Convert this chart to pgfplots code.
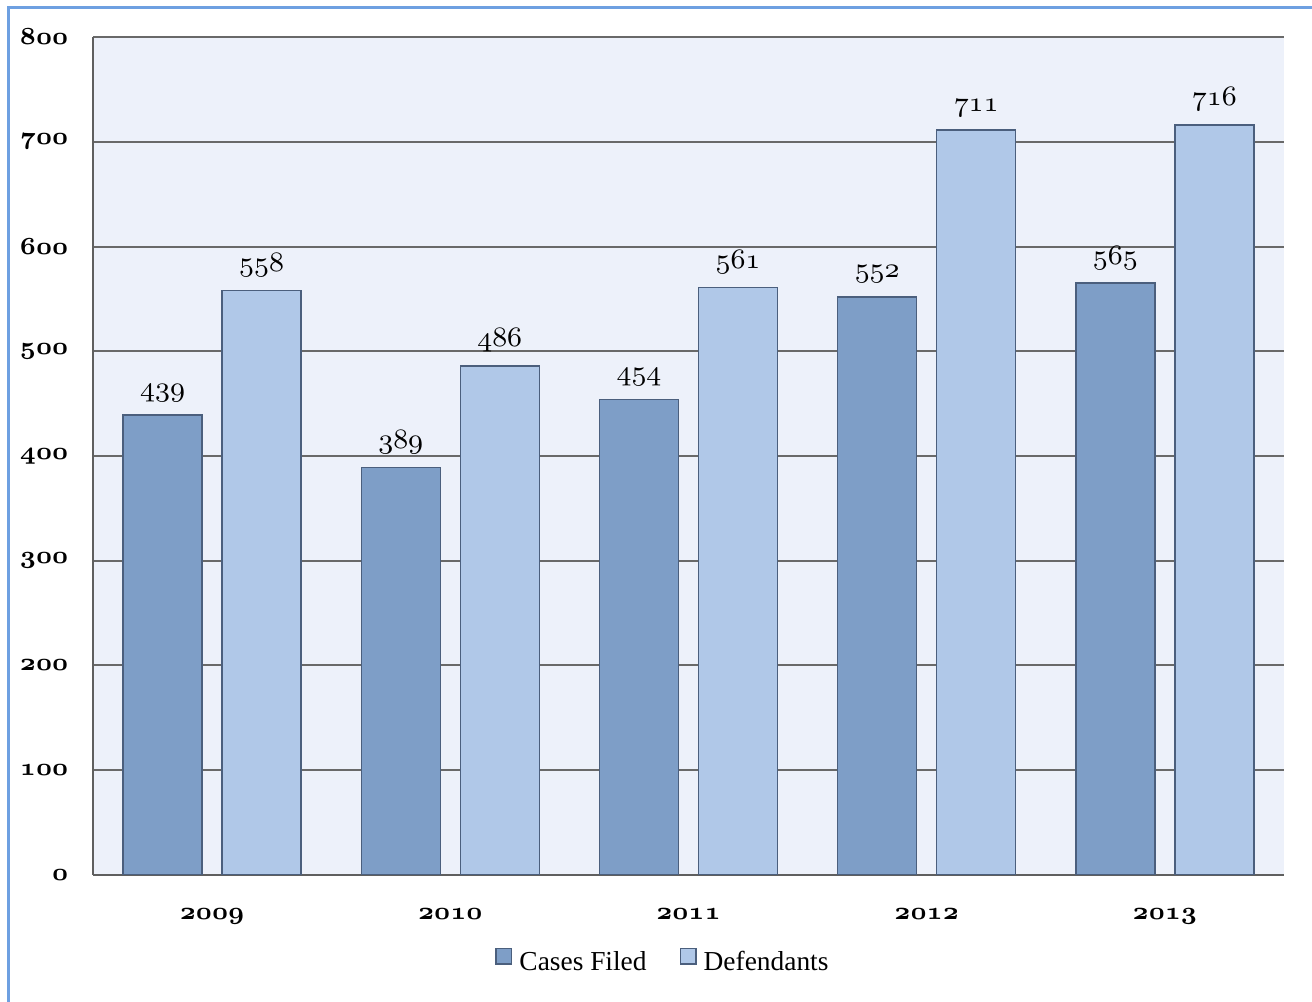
\documentclass[border=0pt]{standalone}
\usepackage{fontspec}
\setmainfont{Liberation Serif}
\usepackage{pgfplots}
\pgfplotsset{compat=1.18}

\definecolor{casefill}{RGB}{126,158,199}
\definecolor{deffill}{RGB}{176,200,232}
\definecolor{barline}{RGB}{75,95,125}
\definecolor{plotbg}{RGB}{237,241,250}
\definecolor{gridcol}{RGB}{105,105,105}
\definecolor{axiscol}{RGB}{95,95,95}
\definecolor{framecol}{RGB}{110,160,225}

% old-style figures taken from the Computer Modern math italic font
\newcommand{\osf}[1]{{\fontencoding{OML}\fontfamily{cmm}\fontshape{it}\selectfont #1}}
\newcommand{\osfb}[1]{{\fontencoding{OML}\fontfamily{cmm}\fontseries{b}\fontshape{it}\selectfont #1}}

\newcommand{\labfont}{\fontsize{7.9}{9}\selectfont}
\newcommand{\legfont}{\fontsize{7.8}{9}\selectfont}
\newcommand{\tickfont}{\fontsize{6.7}{8}\selectfont}

\begin{document}
\begin{tikzpicture}
\begin{axis}[
  at={(9.3mm,12.7mm)}, anchor=south west,
  scale only axis, width=119.1mm, height=83.8mm,
  ybar=2mm, bar width=7.9mm,
  xmin=-0.5, xmax=4.5, ymin=0, ymax=800,
  xtick={0,1,2,3,4},
  xticklabels={\osfb{2009},\osfb{2010},\osfb{2011},\osfb{2012},\osfb{2013}},
  ytick={0,100,...,800},
  yticklabels={\osfb{0},\osfb{100},\osfb{200},\osfb{300},\osfb{400},\osfb{500},\osfb{600},\osfb{700},\osfb{800}},
  major tick length=0pt,
  axis lines*=left,
  axis line style={draw=axiscol, line width=0.2mm},
  axis background/.style={fill=plotbg},
  ymajorgrids, major grid style={draw=gridcol, line width=0.2mm},
  tick label style={font=\tickfont, inner sep=0pt},
  yticklabel style={anchor=east, xshift=-2.4mm},
  xticklabel style={anchor=base, yshift=-4.5mm},
  point meta=explicit symbolic,
  nodes near coords={\osf{\pgfplotspointmeta}},
  every node near coord/.append style={font=\labfont, anchor=base, inner sep=0pt, yshift=1.9mm},
  legend style={draw=none, fill=none, at={(0.4807,-0.106)}, anchor=center,
    font=\legfont, legend columns=2,
    /tikz/every even column/.append style={column sep=2.6mm}},
  legend image code/.code={\draw[#1, line width=0.15mm] (0mm,0mm) rectangle (1.55mm,1.55mm);},
]
\addplot[fill=casefill, draw=barline, line width=0.15mm] coordinates {
  (0,439) [439] (1,389) [389] (2,454) [454] (3,552) [552] (4,565) [565]};
\addplot[fill=deffill, draw=barline, line width=0.15mm] coordinates {
  (0,558) [558] (1,486) [486] (2,561) [561] (3,711) [711] (4,716) [716]};
\legend{Cases Filed, Defendants}
\end{axis}
\draw[framecol, line width=0.22mm] (0.85mm,0mm) -- (0.85mm,99.45mm) -- (131.2mm,99.45mm);
\pgfresetboundingbox
\path (0,0) rectangle (131.2mm,100.2mm);
\end{tikzpicture}
\end{document}
